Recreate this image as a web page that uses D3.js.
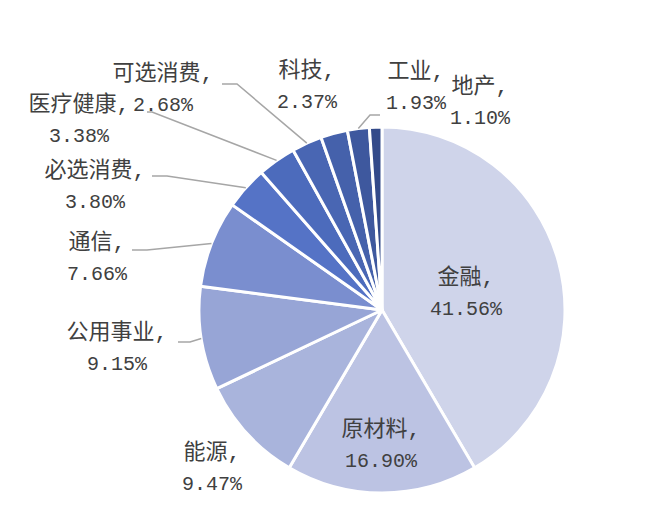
<!DOCTYPE html>
<html>
<head>
<meta charset="utf-8">
<script src="https://cdn.jsdelivr.net/npm/d3@7/dist/d3.min.js"></script>
<style>
  body { margin: 0; background: #fff; }
  .lbl { font-family: "Liberation Mono", "Noto Sans CJK SC", monospace; font-size: 20px; fill: #404040; }
  .lbl .nm { font-size: 22px; }
</style>
</head>
<body>
<div class="pie"></div>
<script>
// data, clockwise from 12 o'clock
var categories = ["金融", "原材料", "能源", "公用事业", "通信", "必选消费", "医疗健康", "可选消费", "科技", "工业", "地产"]
var values = [41.56, 16.90, 9.47, 9.15, 7.66, 3.80, 3.38, 2.68, 2.37, 1.93, 1.10]
var colors = ["#cfd4ea", "#bcc3e3", "#a9b4dc", "#97a5d6", "#7a8ecf", "#5573c6", "#4c6bbc", "#4966b3", "#4561ab", "#3e589e", "#334a8a"]

var width = 646, height = 518
var cx = 382, cy = 310, radius = 183

// label layout: centre of first line, plus optional leader start/elbow
var labelPos = {
    "金融": {x: 466, y: 278},
    "原材料": {x: 381, y: 430},
    "能源": {x: 212, y: 453},
    "公用事业": {x: 117, y: 333, line: [[178, 342], [190, 342]]},
    "通信": {x: 97, y: 243, line: [[132, 250], [147, 250]]},
    "必选消费": {x: 95, y: 171, line: [[152, 176], [167, 176]]},
    "医疗健康": {x: 79, y: 105, line: [[147, 112], [152, 112]]},
    "可选消费": {x: 163, y: 74, line: [[222, 84], [237, 84]]},
    "科技": {x: 307, y: 71},
    "工业": {x: 416, y: 72, line: [[380, 115], [370, 115]]},
    "地产": {x: 480, y: 87}
}
var lineGap = 31

var data = categories.map((c, i) => ({name: c, value: values[i], color: colors[i]}))

var pie = d3.pie().sort(null).value(d => d.value)
var arc = d3.arc().innerRadius(0).outerRadius(radius)
var edge = d3.arc().innerRadius(radius).outerRadius(radius)

var svg = d3.select(".pie")
    .append("svg")
        .attr("width", width)
        .attr("height", height)

var g = svg.append("g")
    .attr("transform", "translate(" + cx + "," + cy + ")")

var arcs = pie(data)

g.selectAll(".slice")
    .data(arcs)
    .enter().append("path")
    .attr("class", "slice")
    .attr("d", arc)
    .style("fill", d => d.data.color)
    .style("stroke", "#fff")
    .style("stroke-width", 3)
    .style("stroke-linejoin", "round")

// leader lines
arcs.filter(d => labelPos[d.data.name].line).forEach(d => {
    var p = labelPos[d.data.name]
    var e = edge.centroid(d)
    var pts = p.line.concat([[e[0] + cx, e[1] + cy]])
    svg.append("polyline")
        .attr("points", pts.map(q => q.join(",")).join(" "))
        .style("fill", "none")
        .style("stroke", "#a6a6a6")
        .style("stroke-width", 1.5)
})

// labels
var lbl = svg.selectAll(".lbl")
    .data(arcs)
    .enter().append("text")
    .attr("class", "lbl")
    .attr("text-anchor", "middle")
    .attr("dominant-baseline", "central")

lbl.append("tspan")
    .attr("class", "nm")
    .attr("x", d => labelPos[d.data.name].x)
    .attr("y", d => labelPos[d.data.name].y)
    .text(d => d.data.name + ",")

lbl.append("tspan")
    .attr("x", d => labelPos[d.data.name].x)
    .attr("y", d => labelPos[d.data.name].y + lineGap)
    .text(d => d.data.value.toFixed(2) + "%")
</script>
</body>
</html>
